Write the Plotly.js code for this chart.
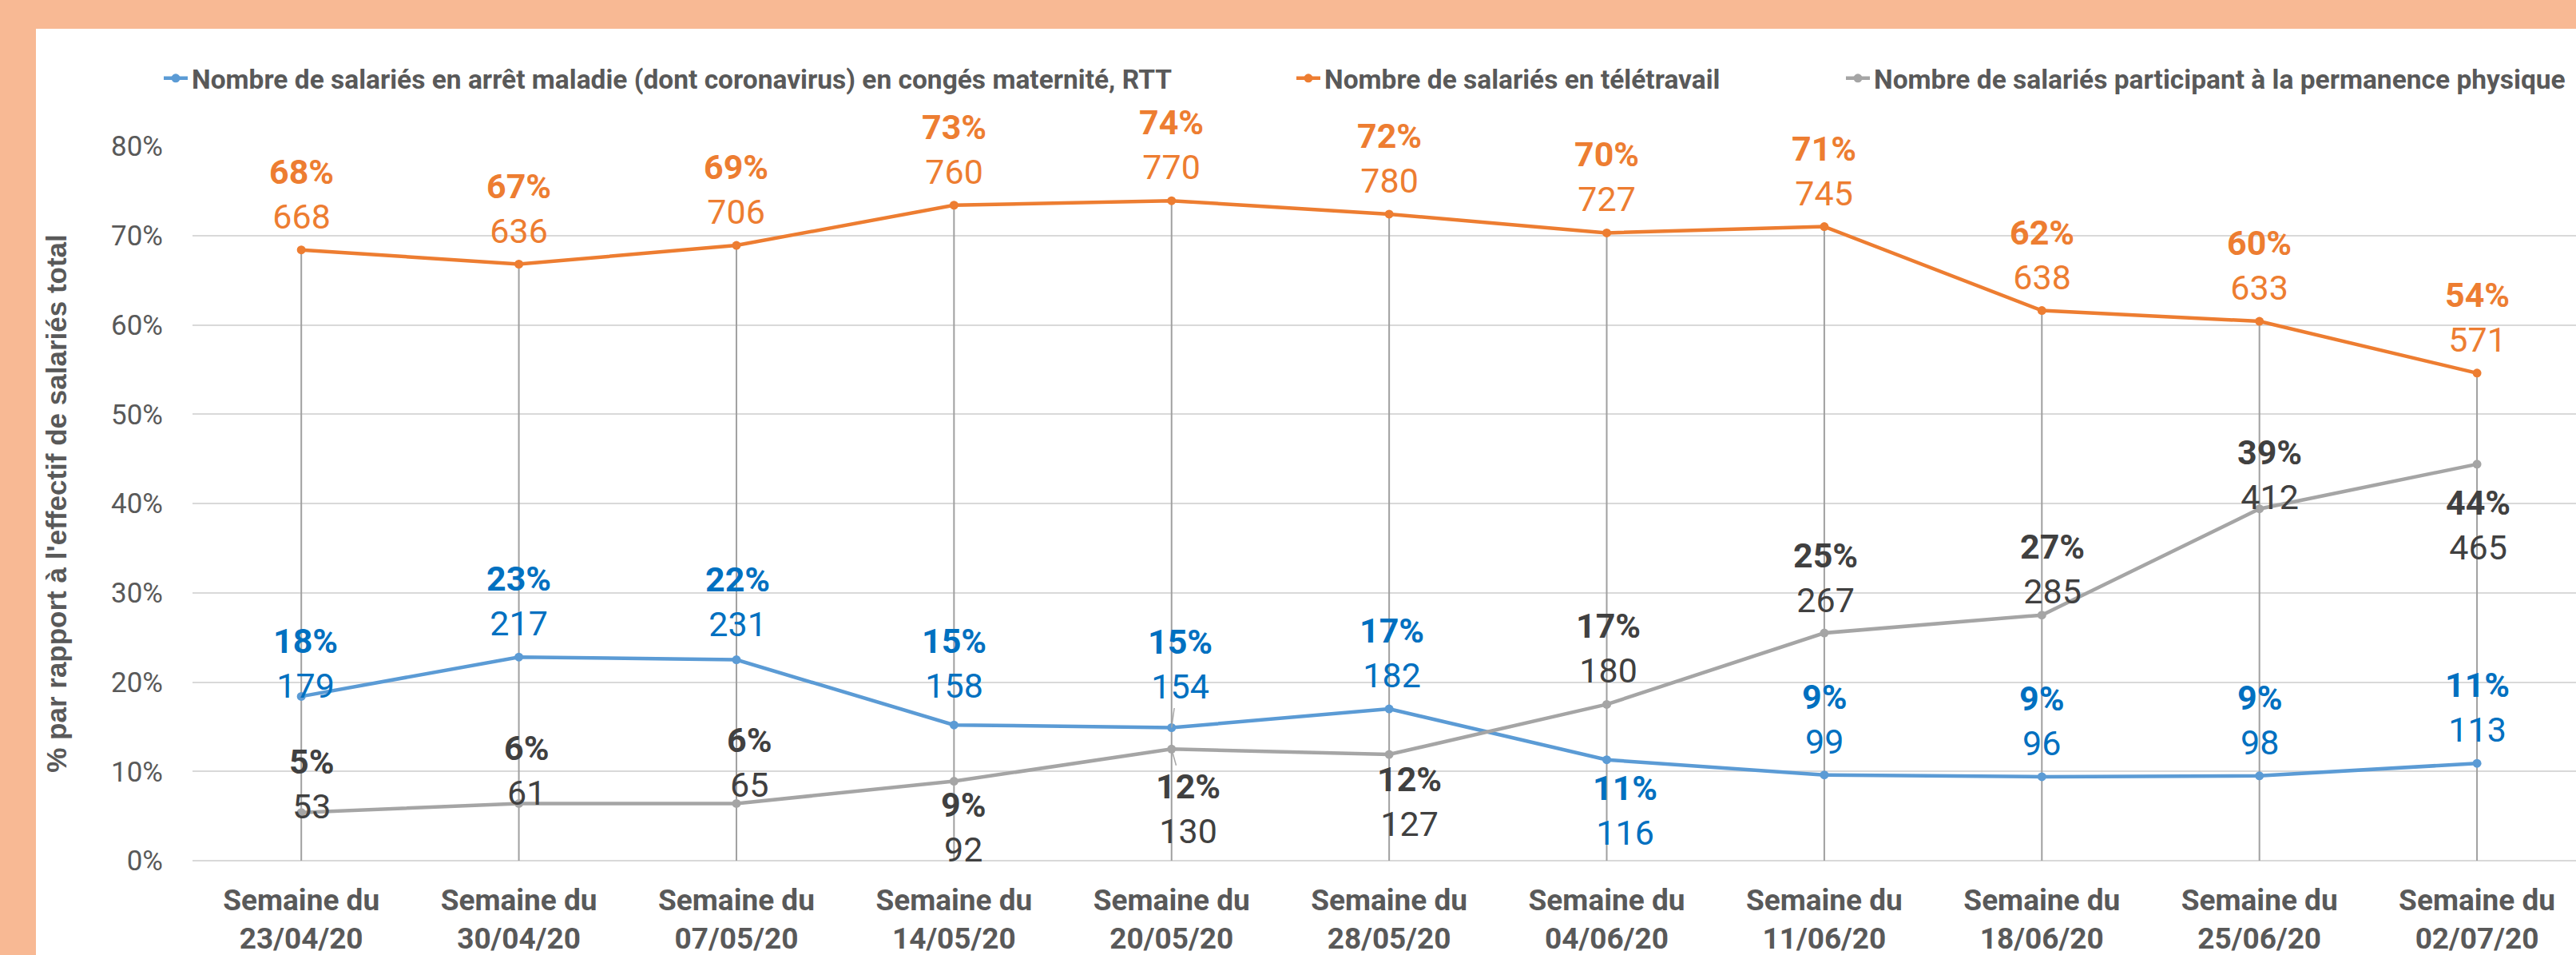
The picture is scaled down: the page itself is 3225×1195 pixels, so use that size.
<!DOCTYPE html>
<html>
<head>
<meta charset="utf-8">
<script src="https://cdn.plot.ly/plotly-3.0.1.min.js"></script>
<style>
  html, body { margin: 0; padding: 0; background: #F8B994; width: 3225px; height: 1195px; overflow: hidden; }
  #chart { position: absolute; left: 45px; top: 36px; width: 3180px; height: 1159px; background: #ffffff; }
</style>
</head>
<body>
<div id="chart"></div>
<script>
// ---- data ----
const weeks = ['23/04/20','30/04/20','07/05/20','14/05/20','20/05/20','28/05/20','04/06/20','11/06/20','18/06/20','25/06/20','02/07/20'];
const tickPrefix = 'Semaine du';

const seriesNames = [
  'Nombre de salariés en arrêt maladie (dont coronavirus) en congés maternité, RTT',
  'Nombre de salariés en télétravail',
  'Nombre de salariés participant à la permanence physique'
];

// percentages of total staff (y values)
const maladiePct   = [18.4, 22.8, 22.5, 15.2, 14.9, 17.0, 11.3, 9.6, 9.4, 9.5, 10.9];
const teletravPct  = [68.4, 66.8, 68.9, 73.4, 73.9, 72.4, 70.3, 71.0, 61.6, 60.4, 54.6];
const permanPct    = [5.4, 6.4, 6.4, 8.9, 12.5, 11.9, 17.5, 25.5, 27.5, 39.4, 44.4];

// printed label values
const maladieLbl   = ['18%','23%','22%','15%','15%','17%','11%','9%','9%','9%','11%'];
const teletravLbl  = ['68%','67%','69%','73%','74%','72%','70%','71%','62%','60%','54%'];
const permanLbl    = ['5%','6%','6%','9%','12%','12%','17%','25%','27%','39%','44%'];

const maladieCount = [179, 217, 231, 158, 154, 182, 116, 99, 96, 98, 113];
const teletravCount= [668, 636, 706, 760, 770, 780, 727, 745, 638, 633, 571];
const permanCount  = [53, 61, 65, 92, 130, 127, 180, 267, 285, 412, 465];

// ---- label placement (pixel offsets of label block centre from its point) ----
const maladieOff = [[5,-41],[0,-70],[2,-73],[0,-77],[11,-79],[3,-70],[23,63],[0,-70],[0,-70],[0,-70],[0,-70]];
const teletravOff = weeks.map(() => [0,-70]);
const permanOff = [[13,-36],[9,-41],[16,-51],[12,57],[21,75],[25,59],[2,-70],[2,-69],[13,-58],[13,-43],[1,76]];
const maladieLeader = [4];
const permanLeader = [4];

const cats = weeks.map(w => tickPrefix + '<br>' + w);

const colBlue = '#5B9BD5', colOrange = '#ED7D31', colGray = '#A5A5A5';
const lblBlue = '#0070C0', lblOrange = '#ED7D31', lblGray = '#404040';
const txtGray = '#595959';
const F = 'Roboto, "Liberation Sans", sans-serif';

// drop lines from 0 up to the highest series
const dropX = [], dropY = [];
cats.forEach((c, i) => {
  const top = Math.max(maladiePct[i], teletravPct[i], permanPct[i]);
  dropX.push(c, c, null); dropY.push(0, top, null);
});

function lineTrace(name, y, col, legendId) {
  return {
    type: 'scatter', mode: 'lines+markers', name: name, x: cats, y: y,
    line: { color: col, width: 4.5 },
    marker: { color: col, size: 11, symbol: 'circle' },
    legend: legendId, cliponaxis: false
  };
}

const traces = [
  { type: 'scatter', mode: 'lines', x: dropX, y: dropY, showlegend: false,
    line: { color: '#A0A0A0', width: 2 }, connectgaps: false, hoverinfo: 'skip' },
  lineTrace(seriesNames[0], maladiePct, colBlue, 'legend'),
  lineTrace(seriesNames[1], teletravPct, colOrange, 'legend2'),
  lineTrace(seriesNames[2], permanPct, colGray, 'legend3')
];

const annotations = [];
function addLabels(y, pctLbl, counts, offs, col, leaders) {
  cats.forEach((c, i) => {
    const withLeader = leaders.indexOf(i) >= 0;
    const a = {
      x: c, y: y[i], xref: 'x', yref: 'y',
      text: '<b>' + pctLbl[i] + '</b><br>' + counts[i],
      font: { family: F, size: 43, color: col },
      align: 'center'
    };
    if (withLeader) {
      Object.assign(a, { showarrow: true, arrowhead: 0, arrowwidth: 1.5, arrowcolor: '#A6A6A6',
        ax: offs[i][0], ay: offs[i][1], standoff: 0 });
    } else {
      Object.assign(a, { showarrow: false, xanchor: 'center', yanchor: 'middle',
        xshift: offs[i][0], yshift: -offs[i][1] });
    }
    annotations.push(a);
  });
}
addLabels(teletravPct, teletravLbl, teletravCount, teletravOff, lblOrange, []);
addLabels(maladiePct, maladieLbl, maladieCount, maladieOff, lblBlue, maladieLeader);
addLabels(permanPct, permanLbl, permanCount, permanOff, lblGray, permanLeader);

const legendFont = { family: F, size: 33.5, color: txtGray, weight: 'bold' };
function legendAt(xpx) {
  return { x: (xpx - 45) / 3180, xref: 'container', xanchor: 'left',
    y: 1 - (98 - 36) / 1159, yref: 'container', yanchor: 'middle',
    orientation: 'h', font: legendFont, bgcolor: 'rgba(0,0,0,0)', borderwidth: 0,
    itemwidth: 30 };
}

const layout = {
  width: 3180, height: 1159,
  paper_bgcolor: '#ffffff', plot_bgcolor: '#ffffff',
  margin: { l: 196, r: 0, t: 147, b: 118, pad: 0 },
  showlegend: true,
  legend: legendAt(200),
  legend2: legendAt(1618),
  legend3: legendAt(2306),
  xaxis: {
    type: 'category', range: [-0.5, 10.455], showgrid: false, zeroline: false,
    showline: false, ticks: '', ticklabelstandoff: 24,
    tickfont: { family: F, size: 37, color: txtGray, weight: 'bold' },
    fixedrange: true
  },
  yaxis: {
    range: [0, 80], dtick: 10, ticksuffix: '%', showgrid: true,
    gridcolor: '#D9D9D9', gridwidth: 2, zeroline: true, zerolinecolor: '#D9D9D9', zerolinewidth: 2,
    showline: false, ticks: '', ticklabelstandoff: 36,
    tickfont: { family: F, size: 35, color: txtGray },
    title: { text: "% par rapport à l'effectif de salariés total",
      font: { family: '"Liberation Sans", Arial, sans-serif', size: 35, color: txtGray, weight: 'bold' },
      standoff: 44 },
    automargin: false, fixedrange: true
  },
  annotations: annotations,
  hovermode: false
};

Plotly.newPlot('chart', traces, layout, { staticPlot: true, displayModeBar: false });
</script>
</body>
</html>
